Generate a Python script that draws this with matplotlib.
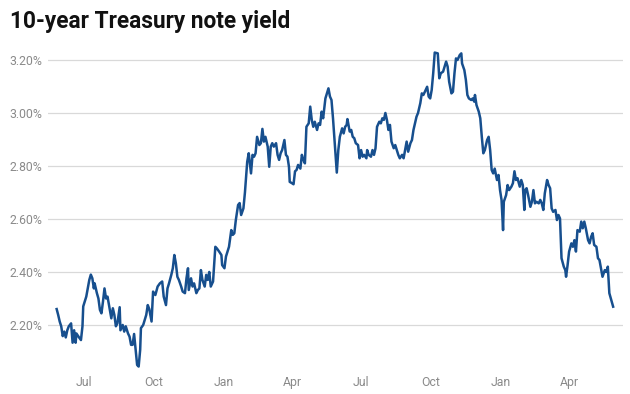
import pandas as pd
import matplotlib
matplotlib.use("Agg")
import matplotlib.pyplot as plt
import matplotlib.dates as mdates
from matplotlib.ticker import FixedLocator, FuncFormatter

plt.rcParams['font.family'] = ['Roboto', 'DejaVu Sans']

base_date = pd.Timestamp('2017-07-01')
days = [
    -36, -34, -32, -30, -28, -26, -24, -22, -20, -17,
    -15, -13, -11, -10, -7, -4, -2, -1, 3, 5,
    7, 9, 11, 13, 14, 17, 19, 21, 23, 25,
    27, 29, 31, 33, 36, 38, 40, 42, 44, 47,
    48, 51, 53, 55, 58, 60, 62, 64, 66, 69,
    70, 72, 74, 75, 78, 82, 84, 86, 89, 91,
    94, 97, 100, 103, 105, 108, 110, 112, 115, 117,
    119, 121, 123, 125, 128, 130, 133, 135, 137, 138,
    141, 143, 145, 148, 150, 152, 154, 156, 159, 161,
    163, 165, 167, 170, 173, 175, 178, 181, 182, 185,
    187, 189, 191, 194, 196, 198, 200, 203, 205, 207,
    210, 212, 215, 217, 220, 222, 224, 226, 228, 231,
    233, 235, 237, 239, 242, 244, 246, 248, 250, 253,
    255, 257, 259, 261, 264, 266, 268, 270, 271, 274,
    276, 278, 280, 282, 285, 287, 289, 291, 293, 296,
    298, 300, 302, 304, 307, 309, 311, 313, 315, 318,
    320, 322, 324, 326, 328, 331, 333, 335, 337, 340,
    342, 344, 346, 347, 350, 352, 354, 356, 358, 361,
    363, 365, 367, 369, 372, 373, 375, 378, 380, 382,
    384, 386, 389, 391, 393, 395, 397, 399, 401, 403,
    405, 408, 410, 412, 414, 416, 419, 421, 423, 425,
    427, 430, 432, 434, 436, 438, 440, 443, 445, 447,
    449, 452, 454, 456, 458, 460, 462, 466, 468, 470,
    473, 475, 477, 479, 481, 484, 486, 488, 490, 492,
    495, 497, 498, 501, 503, 505, 507, 510, 512, 514,
    515, 517, 520, 522, 524, 526, 528, 531, 533, 535,
    537, 539, 541, 544, 546, 548, 550, 552, 553, 556,
    558, 560, 563, 565, 567, 569, 571, 574, 576, 578,
    580, 581, 583, 585, 588, 590, 592, 594, 596, 599,
    601, 603, 605, 607, 610, 612, 614, 616, 618, 621,
    623, 625, 627, 629, 632, 634, 635, 637, 639, 642,
    644, 646, 648, 650, 653, 655, 657, 659, 661, 664,
    666, 668, 670, 672, 675, 677, 679, 681, 683, 686,
    688, 690, 692, 694, 697,
]
yields = [
    2.26, 2.238, 2.213, 2.195, 2.158, 2.175, 2.153, 2.18, 2.195, 2.206,
    2.133, 2.18, 2.133, 2.168, 2.155, 2.143, 2.195, 2.27, 2.307, 2.338,
    2.37, 2.39, 2.376, 2.338, 2.357, 2.32, 2.30, 2.257, 2.244, 2.288,
    2.338, 2.30, 2.307, 2.275, 2.225, 2.263, 2.238, 2.195, 2.206, 2.267,
    2.18, 2.20, 2.175, 2.195, 2.168, 2.156, 2.125, 2.125, 2.166, 2.08,
    2.049, 2.043, 2.106, 2.188, 2.20, 2.238, 2.275, 2.26, 2.213, 2.326,
    2.313, 2.345, 2.357, 2.364, 2.307, 2.275, 2.338, 2.357, 2.389, 2.414,
    2.464, 2.433, 2.382, 2.37, 2.345, 2.326, 2.32, 2.376, 2.414, 2.332,
    2.376, 2.345, 2.357, 2.32, 2.332, 2.338, 2.407, 2.37, 2.345, 2.389,
    2.37, 2.40, 2.345, 2.364, 2.495, 2.489, 2.477, 2.464, 2.426, 2.414,
    2.458, 2.477, 2.495, 2.558, 2.54, 2.546, 2.596, 2.653, 2.66, 2.615,
    2.64, 2.70, 2.816, 2.848, 2.772, 2.842, 2.835, 2.848, 2.91, 2.879,
    2.886, 2.94, 2.892, 2.91, 2.873, 2.797, 2.873, 2.886, 2.873, 2.886,
    2.842, 2.823, 2.848, 2.86, 2.898, 2.842, 2.835, 2.797, 2.74, 2.735,
    2.731, 2.78, 2.785, 2.804, 2.79, 2.842, 2.823, 2.81, 2.948, 2.961,
    3.024, 2.974, 2.948, 2.967, 2.936, 2.961, 2.955, 3.005, 2.98, 3.055,
    3.074, 3.093, 3.062, 3.049, 2.98, 2.86, 2.775, 2.86, 2.91, 2.942,
    2.923, 2.948, 2.955, 2.977, 2.93, 2.936, 2.91, 2.905, 2.886, 2.879,
    2.829, 2.86, 2.835, 2.842, 2.829, 2.86, 2.842, 2.835, 2.86, 2.842,
    2.867, 2.948, 2.967, 2.961, 2.98, 2.974, 3.0, 2.974, 2.936, 2.955,
    2.892, 2.867, 2.879, 2.86, 2.842, 2.829, 2.842, 2.829, 2.86, 2.892,
    2.854, 2.886, 2.898, 2.936, 2.961, 2.986, 3.0, 3.037, 3.074, 3.068,
    3.08, 3.099, 3.062, 3.055, 3.087, 3.15, 3.228, 3.225, 3.131, 3.15,
    3.156, 3.175, 3.194, 3.175, 3.118, 3.074, 3.08, 3.15, 3.206, 3.20,
    3.219, 3.225, 3.187, 3.162, 3.125, 3.068, 3.055, 3.049, 3.055, 3.043,
    3.068, 3.03, 3.005, 2.98, 2.91, 2.848, 2.86, 2.898, 2.91, 2.86,
    2.785, 2.772, 2.79, 2.747, 2.766, 2.709, 2.672, 2.558, 2.665, 2.69,
    2.728, 2.709, 2.722, 2.735, 2.78, 2.747, 2.754, 2.722, 2.747, 2.728,
    2.634, 2.709, 2.716, 2.69, 2.646, 2.665, 2.709, 2.659, 2.665, 2.659,
    2.672, 2.659, 2.634, 2.697, 2.747, 2.728, 2.716, 2.64, 2.627, 2.634,
    2.596, 2.615, 2.602, 2.452, 2.42, 2.407, 2.382, 2.426, 2.477, 2.508,
    2.495, 2.52, 2.477, 2.558, 2.552, 2.59, 2.565, 2.59, 2.565, 2.52,
    2.508, 2.533, 2.546, 2.502, 2.495, 2.452, 2.445, 2.414, 2.382, 2.407,
    2.40, 2.42, 2.32, 2.30, 2.269,
]
y_ticks = [2.2, 2.4, 2.6, 2.8, 3.0, 3.2]
title = '10-year Treasury note yield'

dates = base_date + pd.to_timedelta(days, unit='D')

fig = plt.figure(figsize=(6.3, 3.94), dpi=100)
ax = fig.add_axes([0.0762, 0.0609, 0.9127, 0.8249])

ax.plot(dates, yields, color='#174f8e', lw=1.8, solid_joinstyle='round')

ax.set_xlim(base_date - pd.Timedelta(days=47.4), base_date + pd.Timedelta(days=710))
ax.set_ylim(2.03, 3.2566)

ax.yaxis.set_major_locator(FixedLocator(y_ticks))
ax.yaxis.set_major_formatter(FuncFormatter(lambda v, p: f'{v:.2f}%'))
ax.xaxis.set_major_locator(mdates.MonthLocator(bymonth=[1, 4, 7, 10]))
ax.xaxis.set_major_formatter(mdates.DateFormatter('%b'))

ax.grid(axis='y', color='#d9d9d9', lw=0.9)
ax.set_axisbelow(True)
for s in ax.spines.values():
    s.set_visible(False)
ax.tick_params(axis='both', length=0, labelsize=8.8, labelcolor='#8a8a8a')
ax.tick_params(axis='y', pad=4)
ax.tick_params(axis='x', pad=4)

fig.text(10 / 630, 1 - 28 / 394, title, fontsize=16.3, fontweight='bold',
         color='#111111', va='baseline', ha='left')

fig.savefig('out.png', dpi=100)
